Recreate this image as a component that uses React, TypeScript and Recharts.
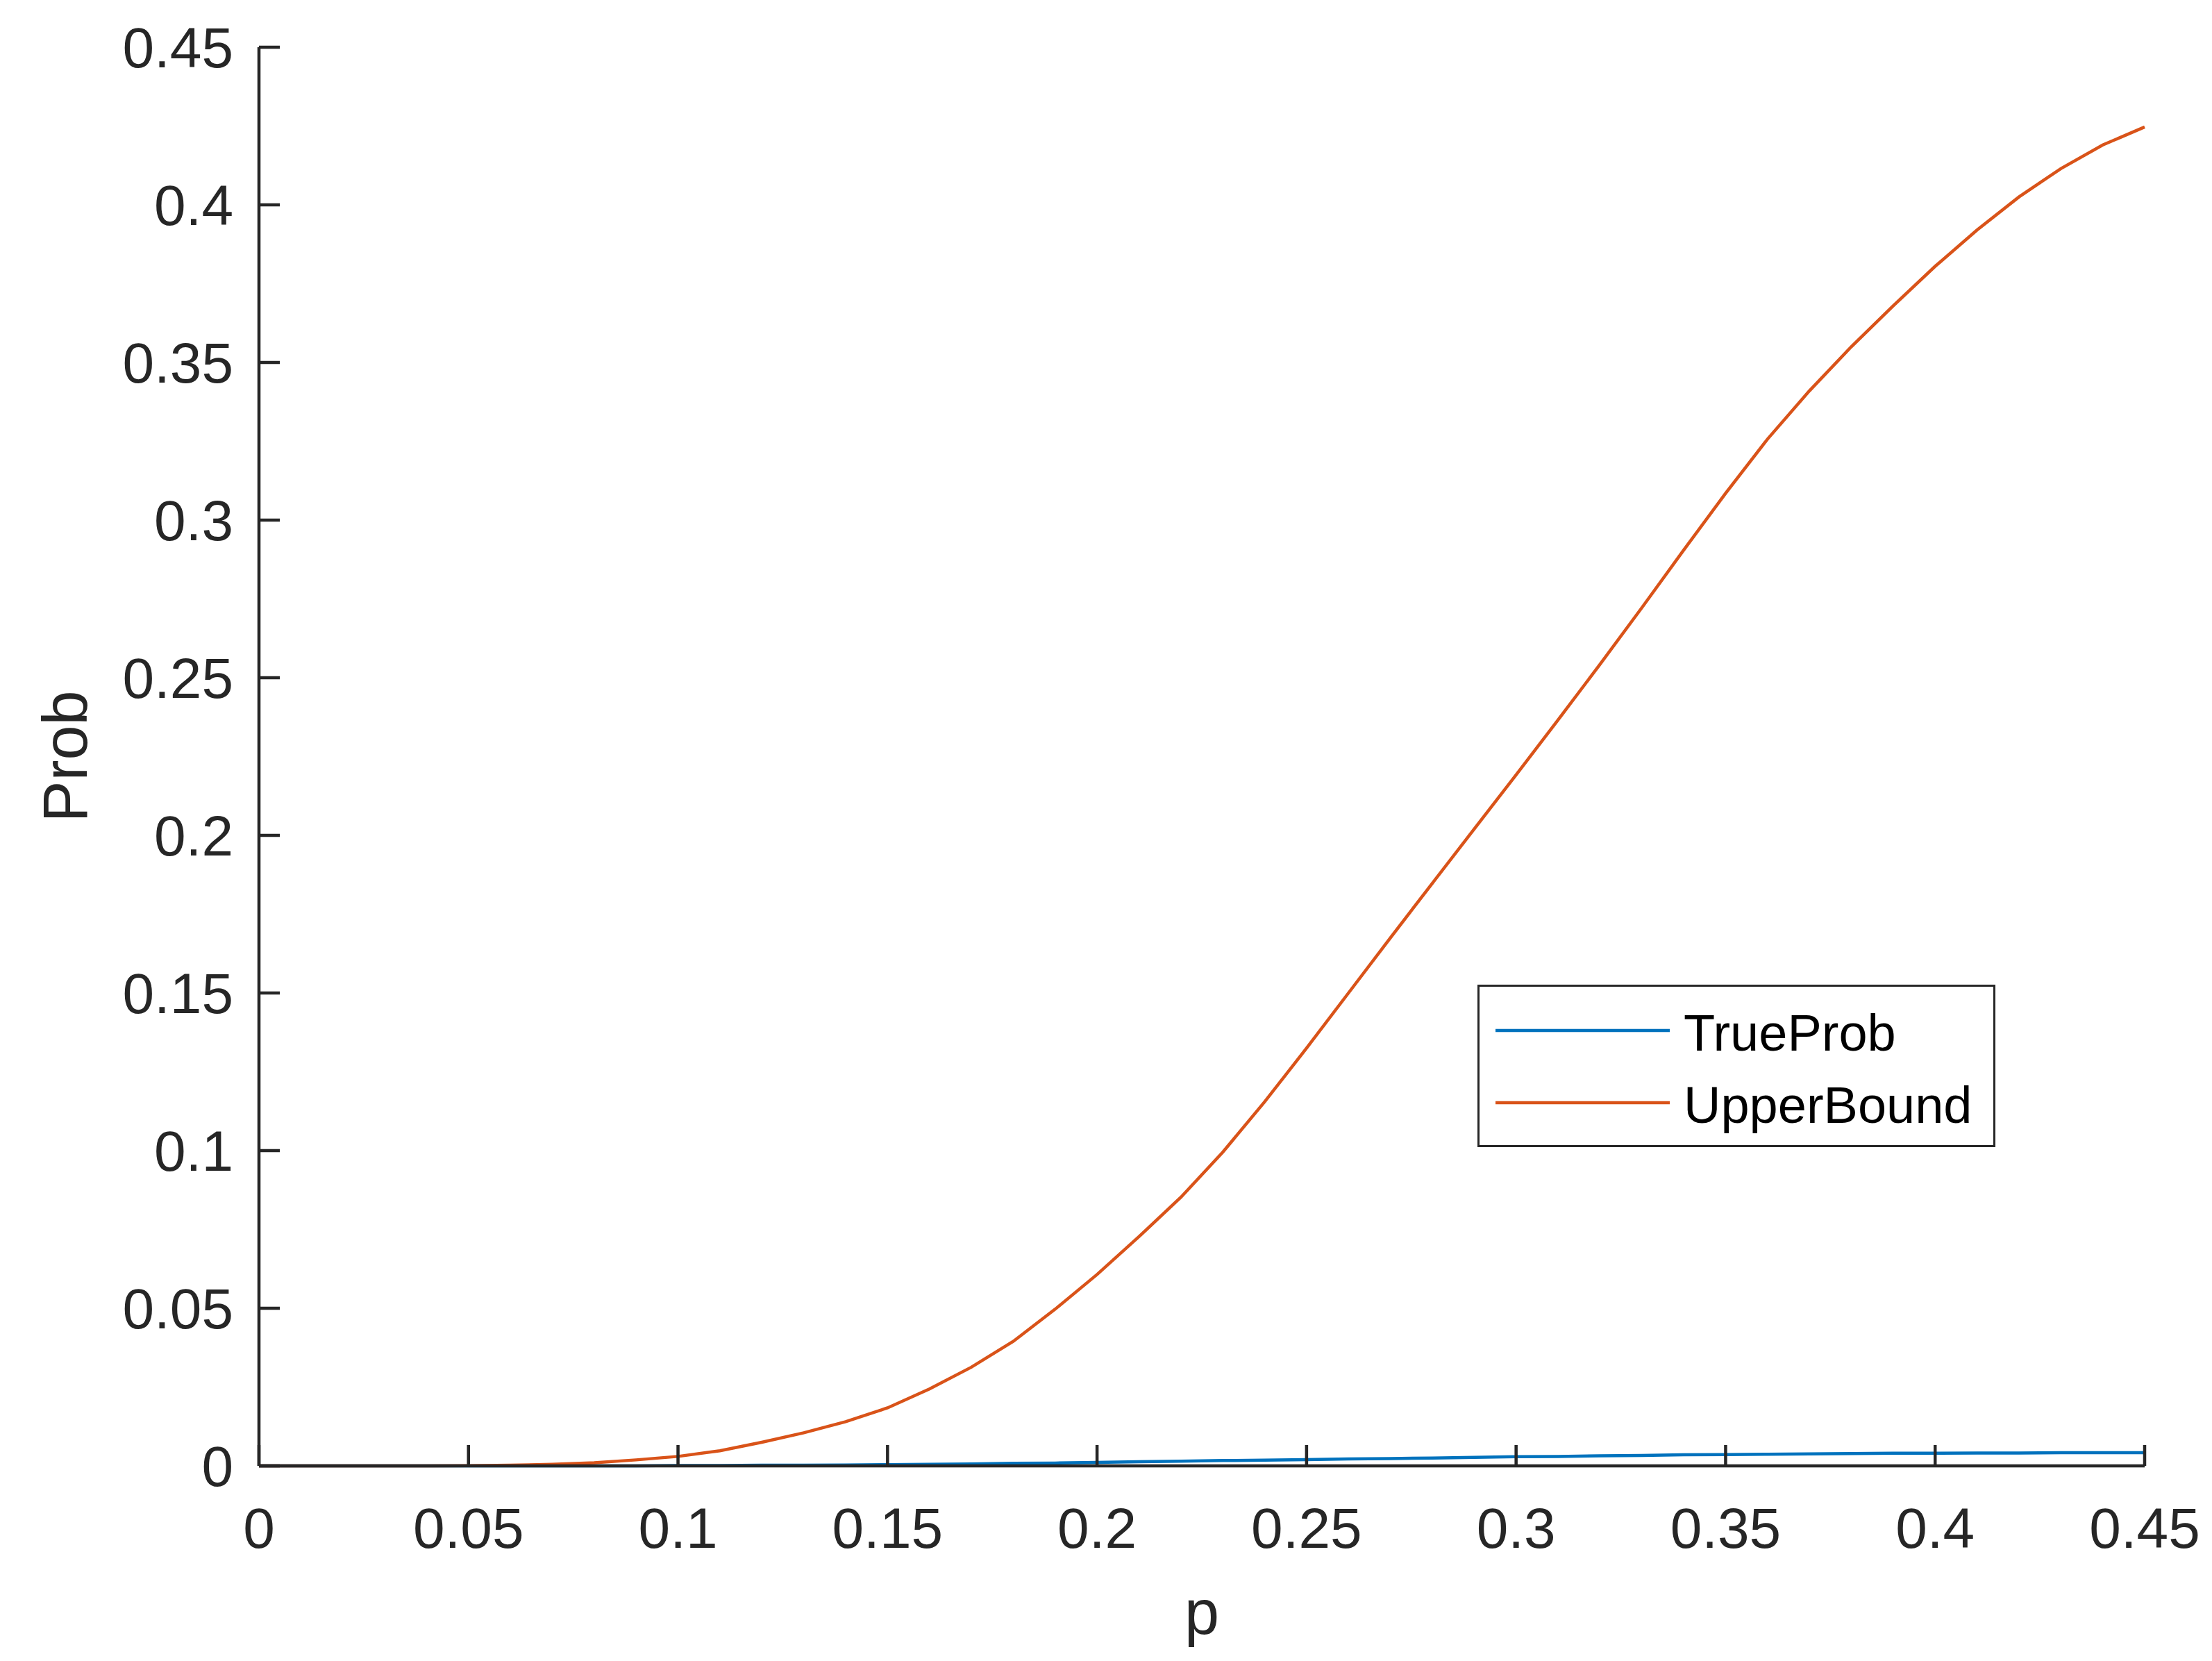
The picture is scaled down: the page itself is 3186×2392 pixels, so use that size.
import React from 'react';
import { LineChart, Line, XAxis, YAxis, Legend } from 'recharts';

// p values on the x axis
const pValues = [
  0, 0.01, 0.02, 0.03, 0.04, 0.05, 0.06, 0.07, 0.08, 0.09,
  0.1, 0.11, 0.12, 0.13, 0.14, 0.15, 0.16, 0.17, 0.18, 0.19,
  0.2, 0.21, 0.22, 0.23, 0.24, 0.25, 0.26, 0.27, 0.28, 0.29,
  0.3, 0.31, 0.32, 0.33, 0.34, 0.35, 0.36, 0.37, 0.38, 0.39,
  0.4, 0.41, 0.42, 0.43, 0.44, 0.45,
];

const trueProb = [
  0, 0, 0, 0, 0, 0, 0, 0, 0, 0,
  0.0001, 0.0001, 0.0002, 0.0002, 0.0003, 0.0004, 0.0005, 0.0006, 0.0008, 0.0009,
  0.0011, 0.0013, 0.0015, 0.0017, 0.0018, 0.002, 0.0022, 0.0023, 0.0025, 0.0027,
  0.0029, 0.003, 0.0032, 0.0033, 0.0035, 0.0036, 0.0037, 0.0038, 0.0039, 0.004,
  0.004, 0.0041, 0.0041, 0.0042, 0.0042, 0.0042,
];

const upperBound = [
  0, 0, 0, 0, 0.00002, 0.00006, 0.0002, 0.0005, 0.001, 0.0019,
  0.003, 0.0048, 0.0075, 0.0105, 0.014, 0.0184, 0.0244, 0.0313, 0.0395, 0.0497,
  0.0607, 0.0727, 0.0852, 0.0995, 0.1155, 0.1325, 0.15, 0.1675, 0.1848, 0.202,
  0.2192, 0.2366, 0.2542, 0.2722, 0.2905, 0.3085, 0.3257, 0.341, 0.355, 0.368,
  0.3805, 0.392, 0.4025, 0.4115, 0.419, 0.4247,
];

const xTicks = [0, 0.05, 0.1, 0.15, 0.2, 0.25, 0.3, 0.35, 0.4, 0.45];
const yTicks = [0, 0.05, 0.1, 0.15, 0.2, 0.25, 0.3, 0.35, 0.4, 0.45];

const data = pValues.map((p, i) => ({
  p,
  TrueProb: trueProb[i],
  UpperBound: upperBound[i],
}));

const FONT = '"Liberation Sans", Arial, Helvetica, sans-serif';
const AXIS_COLOR = '#262626';

// MATLAB-style boxed legend
const LegendBox = (props: any) => {
  const items = props.payload || [];
  return (
    <svg width={746} height={234} style={{ display: 'block' }}>
      <rect x={1.5} y={1.5} width={743} height={231} fill="#fff" stroke={AXIS_COLOR} strokeWidth={3} />
      {items.map((item: any, i: number) => {
        const cy = 66 + i * 104;
        return (
          <g key={item.value}>
            <line x1={26} x2={277} y1={cy} y2={cy} stroke={item.color} strokeWidth={4.5} />
            <text x={297} y={cy + 29} fontFamily={FONT} fontSize={74} fill="#000">
              {item.value}
            </text>
          </g>
        );
      })}
    </svg>
  );
};

const YTitle = (props: any) => {
  const vb = props.viewBox || { x: 0, y: 68, width: 373, height: 2043 };
  const x = vb.x + 125;
  const y = vb.y + vb.height / 2;
  return (
    <text x={x} y={y} transform={`rotate(-90, ${x}, ${y})`} textAnchor="middle"
      fontFamily={FONT} fontSize={90} fill={AXIS_COLOR}>
      Prob
    </text>
  );
};

const XTitle = (props: any) => {
  const vb = props.viewBox || { x: 373, y: 2111, width: 2716, height: 200 };
  return (
    <text x={vb.x + vb.width / 2} y={vb.y + 242} textAnchor="middle"
      fontFamily={FONT} fontSize={90} fill={AXIS_COLOR}>
      p
    </text>
  );
};

const App: React.FC = () => {
  return (
    <div style={{ background: '#fff', width: 3186, height: 2392 }}>
      <style>{'body{margin:0}'}</style>
      <LineChart width={3186} height={2392} data={data}
        margin={{ top: 68, right: 97, bottom: 81, left: 0 }}>
        <XAxis dataKey="p" type="number" domain={[0, 0.45]} ticks={xTicks} interval={0}
          tickFormatter={(v) => String(v)}
          height={200} tickSize={-30} tickMargin={90}
          axisLine={{ stroke: AXIS_COLOR, strokeWidth: 4.5 }}
          tickLine={{ stroke: AXIS_COLOR, strokeWidth: 4.5 }}
          tick={{ fill: AXIS_COLOR, fontSize: 82, fontFamily: FONT }}
          label={{ content: XTitle }} />
        <YAxis type="number" domain={[0, 0.45]} ticks={yTicks} interval={0}
          tickFormatter={(v) => String(v)}
          width={373} tickSize={-30} tickMargin={67}
          axisLine={{ stroke: AXIS_COLOR, strokeWidth: 4.5 }}
          tickLine={{ stroke: AXIS_COLOR, strokeWidth: 4.5 }}
          tick={{ fill: AXIS_COLOR, fontSize: 82, fontFamily: FONT }}
          label={{ content: YTitle }} />
        <Legend layout="horizontal" verticalAlign="middle" align="center"
          content={LegendBox}
          wrapperStyle={{ left: 2128, top: 1418, right: 'auto', bottom: 'auto', width: 746, height: 234 }} />
        <Line type="linear" dataKey="TrueProb" stroke="#0072BD" strokeWidth={4.5}
          dot={false} activeDot={false} isAnimationActive={false} />
        <Line type="linear" dataKey="UpperBound" stroke="#D95319" strokeWidth={4.5}
          dot={false} activeDot={false} isAnimationActive={false} />
      </LineChart>
    </div>
  );
};

export default App;
